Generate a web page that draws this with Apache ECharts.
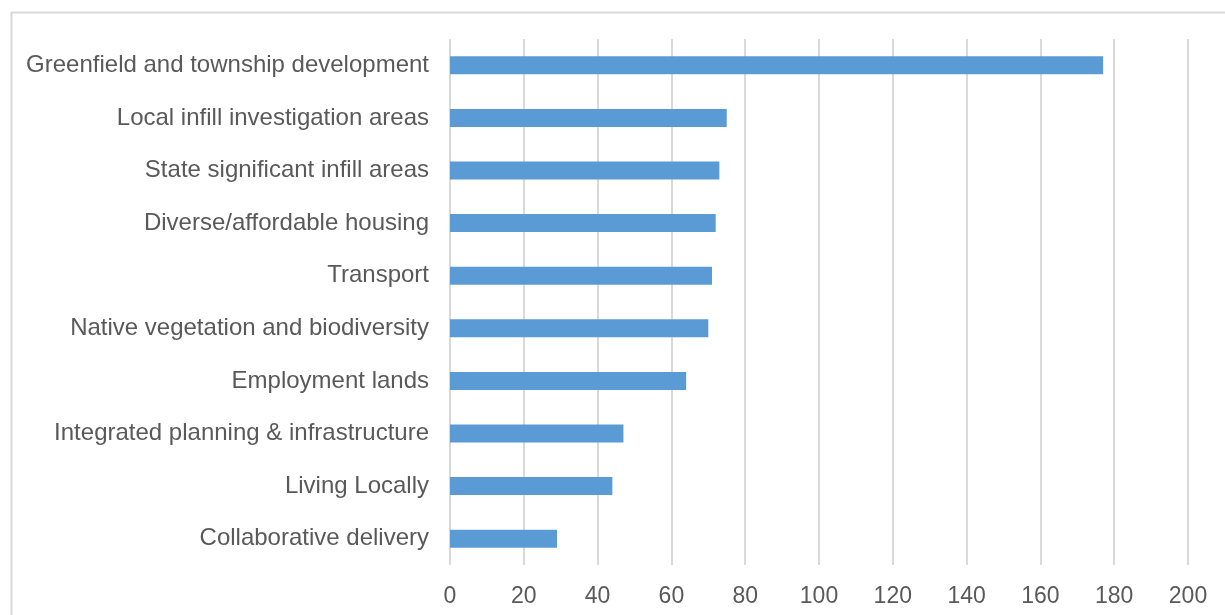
<!DOCTYPE html>
<html>
<head>
<meta charset="utf-8">
<style>
  html, body { margin: 0; padding: 0; background: #ffffff; }
  #chart { width: 1225px; height: 615px; }
</style>
<script src="https://cdn.jsdelivr.net/npm/echarts@6/dist/echarts.min.js"></script>
</head>
<body>
<div id="chart"></div>
<script>
// Themes raised in submissions, listed top to bottom
const categories = [
  'Greenfield and township development',
  'Local infill investigation areas',
  'State significant infill areas',
  'Diverse/affordable housing',
  'Transport',
  'Native vegetation and biodiversity',
  'Employment lands',
  'Integrated planning & infrastructure',
  'Living Locally',
  'Collaborative delivery'
];
const counts = [177, 75, 73, 72, 71, 70, 64, 47, 44, 29];
const xTicks = [0, 20, 40, 60, 80, 100, 120, 140, 160, 180, 200];

const textColor = '#595959';
const gridColor = '#d9d9d9';
const fontFamily = '"Liberation Sans", Arial, sans-serif';

const chart = echarts.init(document.getElementById('chart'), null, { renderer: 'canvas' });

chart.setOption({
  backgroundColor: '#ffffff',
  animation: false,
  graphic: [{
    type: 'rect',
    left: 9,
    top: 10,
    shape: { width: 1240, height: 640 },
    style: { fill: 'none', stroke: gridColor, lineWidth: 2 },
    silent: true,
    z: -1
  }],
  grid: { left: 450, right: 37, top: 39, bottom: 50, containLabel: false },
  xAxis: {
    type: 'value',
    min: xTicks[0],
    max: xTicks[xTicks.length - 1],
    interval: xTicks[1] - xTicks[0],
    axisLine: { show: false },
    axisTick: { show: false },
    splitLine: { show: true, lineStyle: { color: gridColor, width: 2 } },
    axisLabel: {
      color: textColor,
      fontSize: 23,
      fontFamily: fontFamily,
      margin: 20
    }
  },
  yAxis: {
    type: 'category',
    data: categories,
    inverse: true,
    axisLine: { show: false },
    axisTick: { show: false },
    splitLine: { show: false },
    axisLabel: {
      color: textColor,
      fontSize: 24,
      fontFamily: fontFamily,
      margin: 21
    }
  },
  series: [{
    type: 'bar',
    data: counts,
    barWidth: 18,
    itemStyle: { color: '#5b9bd5' },
    silent: true
  }]
});
</script>
</body>
</html>
